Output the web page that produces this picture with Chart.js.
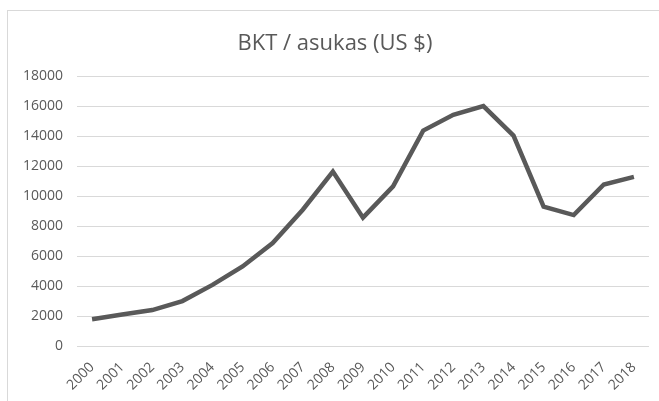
<!DOCTYPE html>
<html>
<head>
<meta charset="utf-8">
<script src="https://cdn.jsdelivr.net/npm/chart.js@4"></script>
<style>
    html, body { margin: 0; padding: 0; background: #fff; overflow: hidden; }
    #wrap { position: relative; width: 659px; height: 401px; }
    #frame { position: absolute; left: 7px; top: 10px; width: 680px; height: 420px; border: 1px solid #d9d9d9; box-sizing: border-box; }
    canvas { position: absolute; left: 0; top: 0; }
</style>
</head>
<body>
<div id="wrap">
    <div id="frame"></div>
    <canvas id="gdpChart" width="659" height="401"></canvas>
</div>
<script>
const years = ['2000', '2001', '2002', '2003', '2004', '2005', '2006', '2007', '2008', '2009',
    '2010', '2011', '2012', '2013', '2014', '2015', '2016', '2017', '2018'];
const gdpPerCapita = [1790, 2100, 2400, 3000, 4080, 5310, 6870, 9100, 11650, 8570,
    10660, 14380, 15440, 16020, 14050, 9300, 8740, 10780, 11290];
const yTicks = [0, 2000, 4000, 6000, 8000, 10000, 12000, 14000, 16000, 18000];

document.addEventListener("DOMContentLoaded", function() {
    const ctx = document.getElementById('gdpChart').getContext('2d');
    const textColor = '#595959';
    const font = "'Open Sans', 'DejaVu Sans', sans-serif";

    new Chart(ctx, {
        type: 'line',
        data: {
            labels: years,
            datasets: [{
                label: 'BKT / asukas (US $)',
                data: gdpPerCapita,
                borderColor: '#595959',
                borderWidth: 4.5,
                pointRadius: 0,
                tension: 0,
                fill: false
            }]
        },
        options: {
            responsive: false,
            animation: false,
            layout: {
                // left padding nudges the title centre right; y axis narrowed so the plot still starts at x=77
                padding: { top: 0, right: 8, bottom: 0, left: 19 }
            },
            scales: {
                x: {
                    offset: true,
                    grid: { display: false, drawTicks: false },
                    border: { display: false },
                    ticks: {
                        color: textColor,
                        font: { family: font, size: 14 },
                        maxRotation: 45,
                        minRotation: 45,
                        autoSkip: false,
                        padding: 13
                    },
                    afterFit: function(scale) { scale.height = 55; }
                },
                y: {
                    min: 0,
                    max: 18000,
                    afterBuildTicks: function(scale) {
                        scale.ticks = yTicks.map(v => ({ value: v }));
                    },
                    grid: { color: '#d9d9d9', lineWidth: 1, drawTicks: false },
                    border: { display: false },
                    ticks: {
                        color: textColor,
                        font: { family: font, size: 14 },
                        padding: 14,
                        callback: function(value) { return String(value); }
                    },
                    afterFit: function(scale) { scale.width = 58; }
                }
            },
            plugins: {
                legend: { display: false },
                tooltip: { enabled: false },
                title: {
                    display: true,
                    text: 'BKT / asukas (US $)',
                    color: textColor,
                    font: { family: font, size: 22, weight: 'normal' },
                    padding: { top: 31, bottom: 19 }
                }
            }
        }
    });
});
</script>
</body>
</html>
